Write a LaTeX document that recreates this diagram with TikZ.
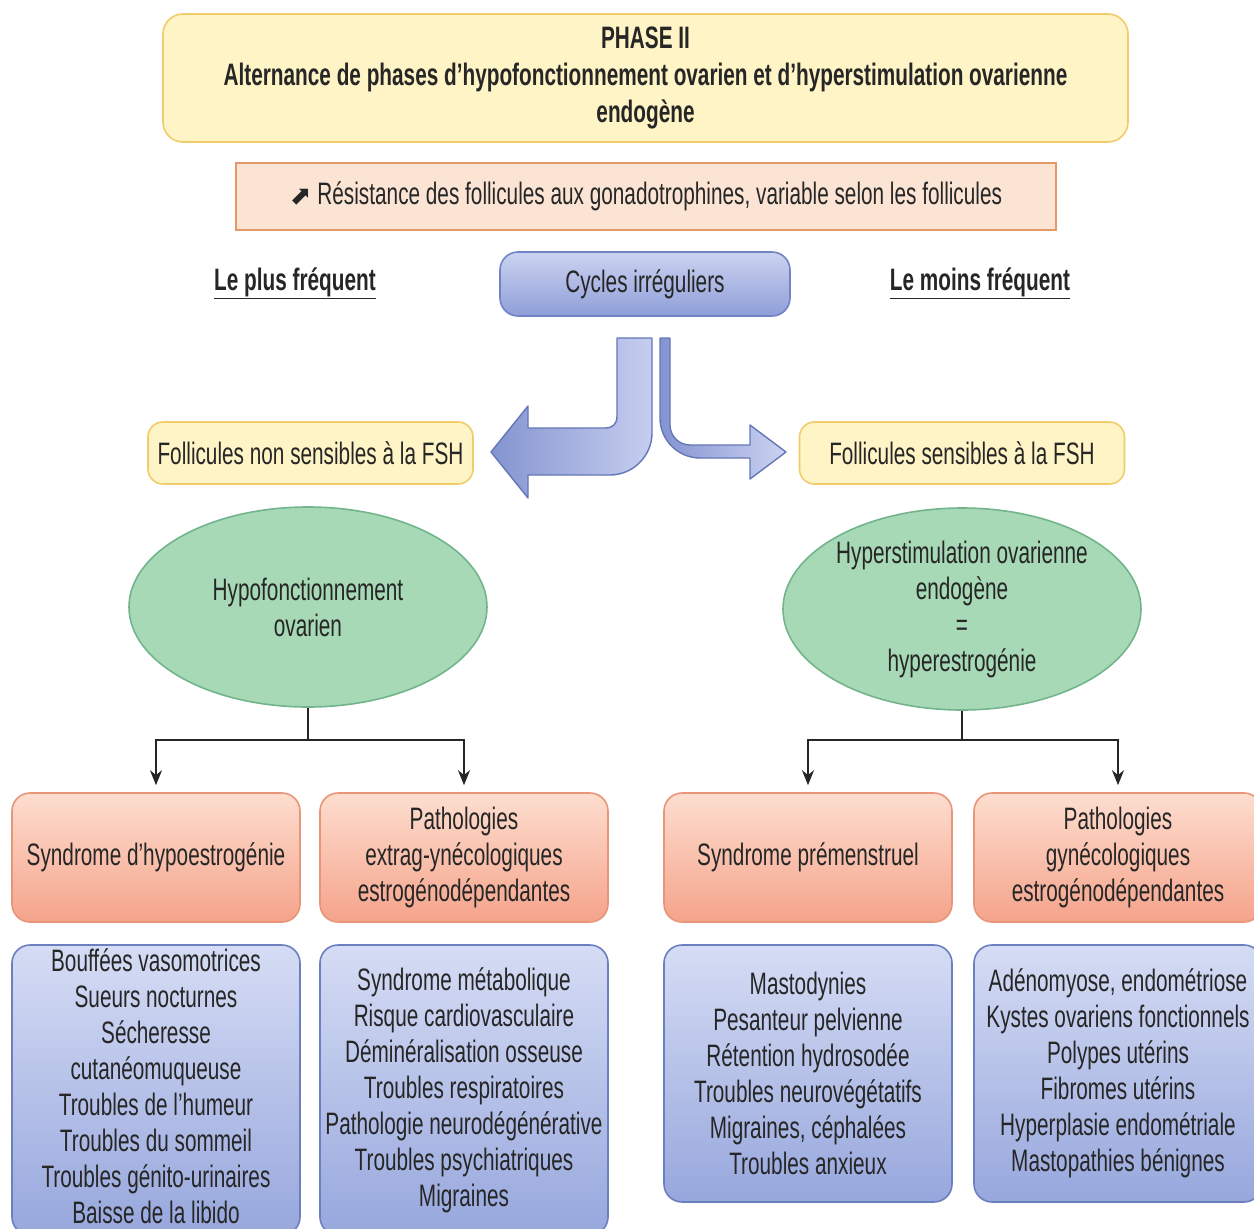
\documentclass[tikz,border=0pt]{standalone}
\usepackage{fontspec}
\setmainfont{Liberation Sans}[FakeStretch=0.67]
\newfontfamily\symfont{DejaVu Sans}
\usetikzlibrary{shapes.geometric,arrows.meta}
\definecolor{txt}{HTML}{262626}
\definecolor{yfill}{HTML}{FFF4C6}
\definecolor{ydraw}{HTML}{F0CC6A}
\definecolor{resfill}{HTML}{FCE4D4}
\definecolor{resdraw}{HTML}{E39A68}
\definecolor{cyctop}{HTML}{CCD3F1}
\definecolor{cycbot}{HTML}{8E9ED8}
\definecolor{cycdraw}{HTML}{7083C5}
\definecolor{ellfill}{HTML}{A7D9B6}
\definecolor{elldraw}{HTML}{72B58C}
\definecolor{obtop}{HTML}{FDDECF}
\definecolor{obbot}{HTML}{F5A38B}
\definecolor{obdraw}{HTML}{E8957A}
\definecolor{bbtop}{HTML}{D5DCF4}
\definecolor{bbbot}{HTML}{97A7DD}
\definecolor{bbdraw}{HTML}{6C7FBF}
\definecolor{arrdark}{HTML}{8494D0}
\definecolor{arrlight}{HTML}{C6CEEF}
\definecolor{arrdraw}{HTML}{6577B8}
\newcommand\myfs{\fontsize{31}{36}\selectfont}
\tikzset{
  base/.style={align=center, text=txt, font=\myfs, inner sep=0pt},
  topbox/.style={base, font=\fontsize{31}{37}\selectfont\bfseries, draw=ydraw, fill=yfill, rounded corners=20pt, line width=1.6pt},
  resbox/.style={base, draw=resdraw, fill=resfill, line width=1.6pt},
  ybox/.style={base, draw=ydraw, fill=yfill, rounded corners=15pt, line width=1.6pt, minimum width=325pt, minimum height=62pt},
  cycbox/.style={base, draw=cycdraw, top color=cyctop, bottom color=cycbot, rounded corners=18pt, line width=1.6pt},
  ellnode/.style={base, ellipse, draw=elldraw, fill=ellfill, line width=1.6pt},
  obox/.style={base, draw=obdraw, top color=obtop, bottom color=obbot, rounded corners=18pt, line width=1.6pt, minimum width=288pt, minimum height=129pt},
  bbox/.style={base, draw=bbdraw, top color=bbtop, bottom color=bbbot, rounded corners=18pt, line width=1.6pt, minimum width=288pt},
  lbl/.style={base, font=\myfs\bfseries},
  conn/.style={draw=black!85, line width=2pt, -{Stealth[length=15pt,width=12pt]}, shorten >=7pt},
  plain/.style={draw=black!85, line width=2pt},
  fatarrow/.style={draw=arrdraw, line width=1.4pt, line join=round}
}
\begin{document}
\begin{tikzpicture}[x=1pt,y=-1pt]
\useasboundingbox[fill=white] (0,0) rectangle (1254,1229);

\node[topbox, minimum width=965pt, minimum height=128pt] (top) at (645.5,78)
  {PHASE II\\Alternance de phases d’hypofonctionnement ovarien et d’hyperstimulation ovarienne\\endogène};

\node[resbox, minimum width=820pt, minimum height=67pt] (res) at (646,196.5)
  {{\symfont\fontsize{26}{30}\selectfont ⬈} Résistance des follicules aux gonadotrophines, variable selon les follicules};

\node[lbl] (plus) at (295,283) {\underline{Le plus fréquent}};
\node[lbl] (moins) at (980,283) {\underline{Le moins fréquent}};

\node[cycbox, minimum width=290pt, minimum height=64pt] (cyc) at (645,284) {Cycles irréguliers};

% block arrows
\shadedraw[fatarrow, left color=arrdark, right color=arrlight]
  (617,338) -- (617,416) .. controls (617,424) and (613,428) .. (605,428)
  -- (528,428) -- (528,406) -- (491,452) -- (528,498) -- (528,475)
  -- (610,475) .. controls (633,475) and (652,456) .. (652,433)
  -- (652,338) -- cycle;
\shadedraw[fatarrow, left color=arrdark, right color=arrlight!90!white]
  (660,338) -- (660,418) .. controls (660,440) and (678,458) .. (700,458)
  -- (750,458) -- (750,479) -- (786,452) -- (750,425) -- (750,445)
  -- (690,445) .. controls (679,445) and (670,436) .. (670,425)
  -- (670,338) -- cycle;

\node[ybox] (fnon) at (310.5,453) {Follicules non sensibles à la FSH};
\node[ybox] (fsens) at (962,453) {Follicules sensibles à la FSH};

\node[ellnode, minimum width=358pt, minimum height=200pt] (e1) at (308,607) {Hypofonctionnement\\ovarien};
\node[ellnode, minimum width=358pt, minimum height=202pt] (e2) at (962,609) {Hyperstimulation ovarienne\\endogène\\=\\hyperestrogénie};

\node[obox] (ob1) at (156,857.5) {Syndrome d’hypoestrogénie};
\node[obox] (ob2) at (464,857.5) {Pathologies\\extrag-ynécologiques\\estrogénodépendantes};
\node[obox] (ob3) at (808,857.5) {Syndrome prémenstruel};
\node[obox] (ob4) at (1118,857.5) {Pathologies\\gynécologiques\\estrogénodépendantes};

\node[bbox, minimum height=290pt] (bb1) at (156,1090) {};
\node[base, anchor=center] (bb1t) at (156,1086) {Bouffées vasomotrices\\Sueurs nocturnes\\Sécheresse\\cutanéomuqueuse\\Troubles de l’humeur\\Troubles du sommeil\\Troubles génito-urinaires\\Baisse de la libido};
\node[bbox, minimum height=290pt] (bb2) at (464,1090) {Syndrome métabolique\\Risque cardiovasculaire\\Déminéralisation osseuse\\Troubles respiratoires\\Pathologie neurodégénérative\\Troubles psychiatriques\\Migraines};
\node[bbox, minimum height=257pt] (bb3) at (808,1073.5) {Mastodynies\\Pesanteur pelvienne\\Rétention hydrosodée\\Troubles neurovégétatifs\\Migraines, céphalées\\Troubles anxieux};
\node[bbox, minimum height=257pt] (bb4) at (1118,1073.5) {Adénomyose, endométriose\\Kystes ovariens fonctionnels\\Polypes utérins\\Fibromes utérins\\Hyperplasie endométriale\\Mastopathies bénignes};

% connectors
\coordinate (j1) at (309,740);
\coordinate (j2) at (962,740);
\draw[plain] (e1.south) -- (e1.south |- j1);
\draw[conn] (e1.south |- j1) -| (ob1.north);
\draw[conn] (e1.south |- j1) -| (ob2.north);
\draw[plain] (e2.south) -- (e2.south |- j2);
\draw[conn] (e2.south |- j2) -| (ob3.north);
\draw[conn] (e2.south |- j2) -| (ob4.north);
\end{tikzpicture}
\end{document}
